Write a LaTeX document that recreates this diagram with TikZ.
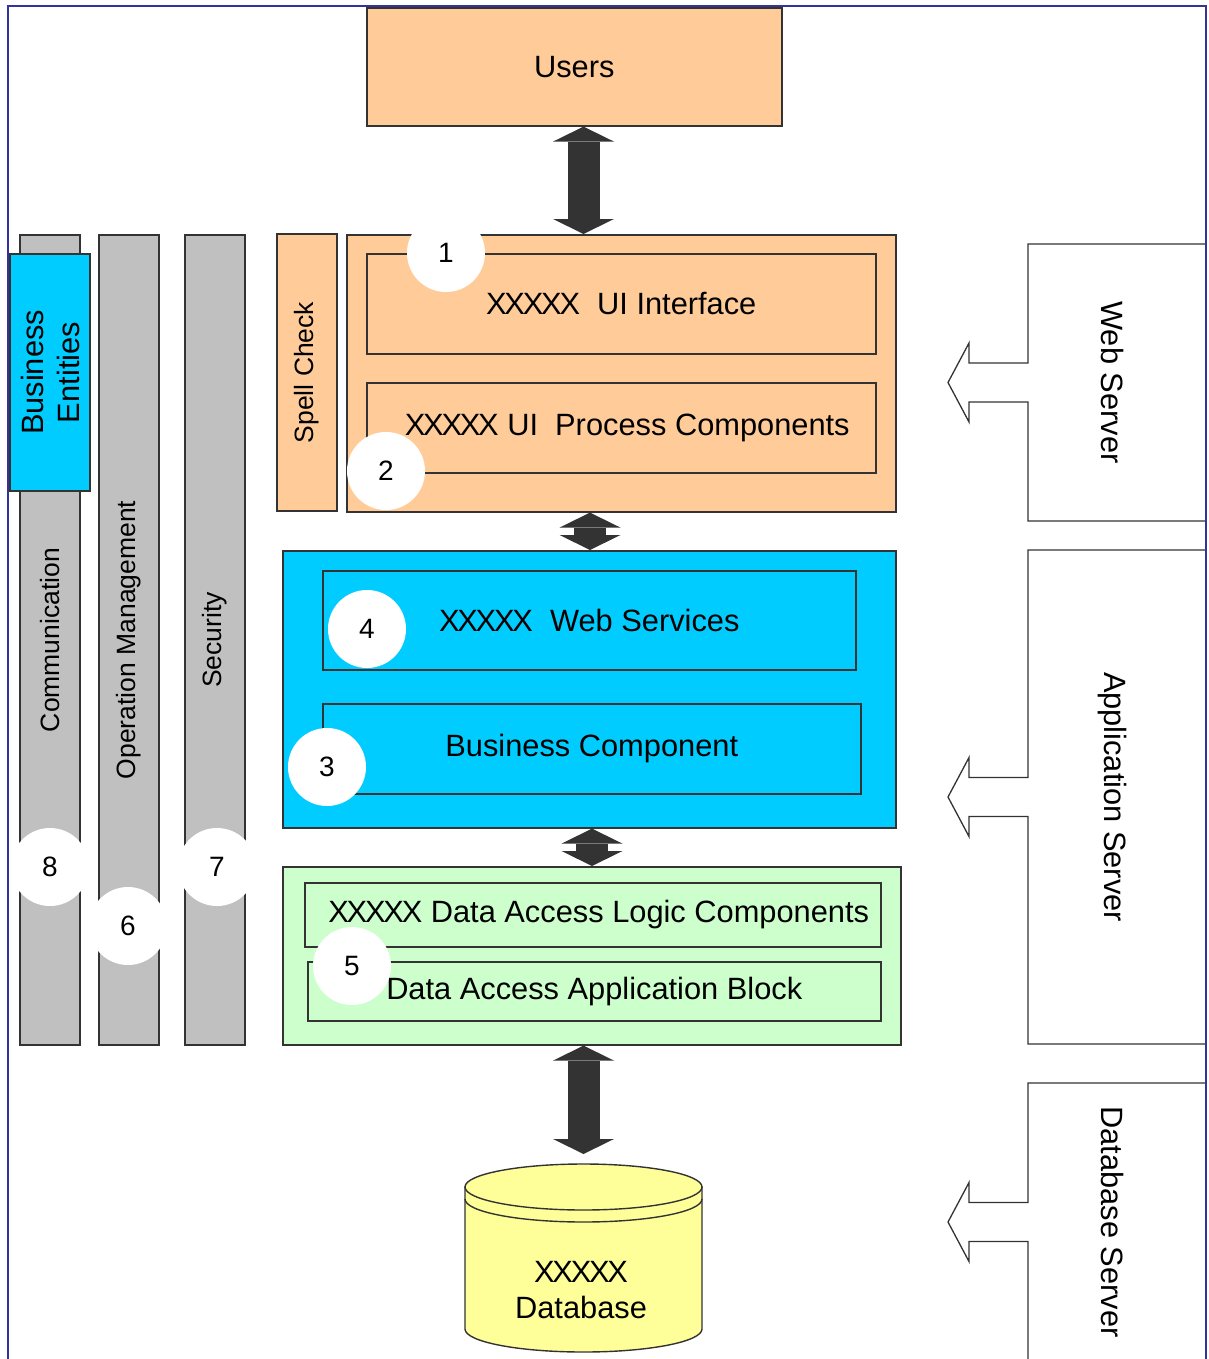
\documentclass[tikz,border=0pt]{standalone}
\usepackage{fontspec}
\setmainfont{Liberation Sans}
\usetikzlibrary{arrows.meta}

\definecolor{peach}{HTML}{FFCC99}
\definecolor{skyblue}{HTML}{00CCFF}
\definecolor{mint}{HTML}{CCFFCC}
\definecolor{silver}{HTML}{C0C0C0}
\definecolor{dbyellow}{HTML}{FFFF99}
\definecolor{darkarrow}{HTML}{333333}
\definecolor{framecol}{HTML}{333399}
\definecolor{edge}{HTML}{333333}

\newcommand\bigtext{\fontsize{30.8}{36}\selectfont}
\newcommand\coltext{\fontsize{26.5}{32}\selectfont}
\newcommand\numtext{\fontsize{28}{32}\selectfont}
\newcommand\xxxxx{X\kern-2.2pt X\kern-2.2pt X\kern-2.2pt X\kern-2.2pt X}

% server box with a hollow arrow on its left side:
% #1 name, #2 top, #3 bottom, #4 arrow centre, #5 label
\newcommand\srvbox[5]{%
  \draw[srvline] (1206,#2) -- (1028,#2) -- (1028,{#4-19.5}) -- (969,{#4-19.5})
    -- (969,{#4-39.5}) -- (948,#4) -- (969,{#4+39.5}) -- (969,{#4+19.5})
    -- (1028,{#4+19.5}) -- (1028,#3) -- (1206,#3);
  \node[rotate=-90, font=\bigtext] (#1) at (1112,#4) {#5};
}

\begin{document}
\begin{tikzpicture}[x=1pt, y=-1pt,
  box/.style={draw=edge, line width=1.6pt, inner sep=0pt, anchor=north west, font=\bigtext},
  inner/.style={box, line width=1.5pt},
  col/.style={draw=edge, fill=silver, line width=1.6pt, inner sep=0pt, rotate=90,
    minimum width=810pt, minimum height=60pt, font=\coltext},
  badge/.style={circle, fill=white, inner sep=0pt, minimum size=78pt, font=\numtext},
  srvline/.style={draw=edge, line width=1.3pt},
  dblarrow/.style={draw=darkarrow, line width=32pt,
    {Triangle[width=61pt,length=15pt,line width=0pt]}-{Triangle[width=61pt,length=15pt,line width=0pt]}},
]
\useasboundingbox (0,0) rectangle (1209,1359);
\clip (0,0) rectangle (1209,1359);

% cross-cutting columns
\node[col] (comm) at (50,640) {Communication};
\node[col] (opman) at (129,640) {Operation Management};
\node[col] (secu) at (215,640) {Security};
\node[draw=edge, fill=skyblue, line width=1.6pt, inner sep=0pt, rotate=90,
      minimum width=237pt, minimum height=80pt, align=center, font=\bigtext]
      (bent) at (50,372.5) {Business\\Entities};

% users
\node[box, fill=peach, minimum width=415pt, minimum height=118pt] (users) at (366,7) {Users};

% presentation layer
\node[col, fill=peach, minimum width=277pt] (spell) at (307,372.5) {Spell Check};
\node[box, fill=peach, minimum width=549pt, minimum height=277pt] (ui) at (346,234) {};
\node[inner, minimum width=509pt, minimum height=100pt] (uiif) at (366,253) {\xxxxx\ \ UI Interface};
\node[inner, minimum width=509pt, minimum height=90pt] (uipc) at (366,382) {\hspace*{12pt}\xxxxx\ UI\ \ Process Components};

% business layer
\node[box, fill=skyblue, minimum width=613pt, minimum height=277pt] (biz) at (282,550) {};
\node[inner, minimum width=533pt, minimum height=99pt] (ws) at (322,570) {\xxxxx\ \ Web Services};
\node[inner, minimum width=538pt, minimum height=90pt] (bc) at (322,703) {Business Component};

% data layer
\node[box, fill=mint, minimum width=618pt, minimum height=178pt] (dal) at (282,866) {};
\node[inner, minimum width=576pt, minimum height=64pt] (dalc) at (304,882) {\hspace*{12pt}\xxxxx\ Data Access Logic Components};
\node[inner, minimum width=573pt, minimum height=59pt] (daab) at (307,961) {Data Access Application Block};

% database cylinder
\filldraw[draw=edge, fill=dbyellow, line width=1.4pt]
  (465,1187) -- (465,1329)
  .. controls (465,1341.7) and (518.05,1352) .. (583.5,1352)
  .. controls (648.95,1352) and (702,1341.7) .. (702,1329)
  -- (702,1187) -- cycle;
\filldraw[draw=edge, fill=dbyellow, line width=1.4pt] (583.5,1187) ellipse [x radius=118.5, y radius=23];
\draw[edge, line width=1.4pt] (465,1199)
  .. controls (465,1211.7) and (518.05,1222) .. (583.5,1222)
  .. controls (648.95,1222) and (702,1211.7) .. (702,1199);
\coordinate (dbtop) at (583.5,1164);
\node[align=center, font=\bigtext] (dbtext) at (581,1290) {\xxxxx\\Database};

% connectors between the layers
\coordinate (ax1) at (583.5,0);
\coordinate (ax2) at (590,0);
\coordinate (ax3) at (592,0);
\coordinate (ax4) at (583.5,0);
\draw[dblarrow] (users.south -| ax1) -- (ui.north -| ax1);
\draw[dblarrow] (ui.south -| ax2) -- (biz.north -| ax2);
\draw[dblarrow] (biz.south -| ax3) -- (dal.north -| ax3);
\draw[dblarrow] (dal.south -| ax4) -- ([yshift=10pt]dbtop);

% numbered badges
\node[badge] (n1) at (446,253) {1};
\node[badge] (n2) at (386,471) {2};
\node[badge] (n4) at (367,629) {4};
\node[badge] (n3) at (327,767) {3};
\node[badge] (n5) at (352,966) {5};
\node[badge] (n8) at (50,867) {8};
\node[badge] (n6) at (128,926) {6};
\node[badge] (n7) at (217,867) {7};

% deployment tiers
\srvbox{websrv}{244}{521}{382.5}{Web Server}
\srvbox{appsrv}{550}{1044}{797}{Application Server}
\srvbox{dbsrv}{1083}{1380}{1222}{Database Server}

% outer frame
\draw[framecol, line width=2.5pt] (8,1380) -- (8,6) -- (1206,6) -- (1206,1380);
\end{tikzpicture}
\end{document}
